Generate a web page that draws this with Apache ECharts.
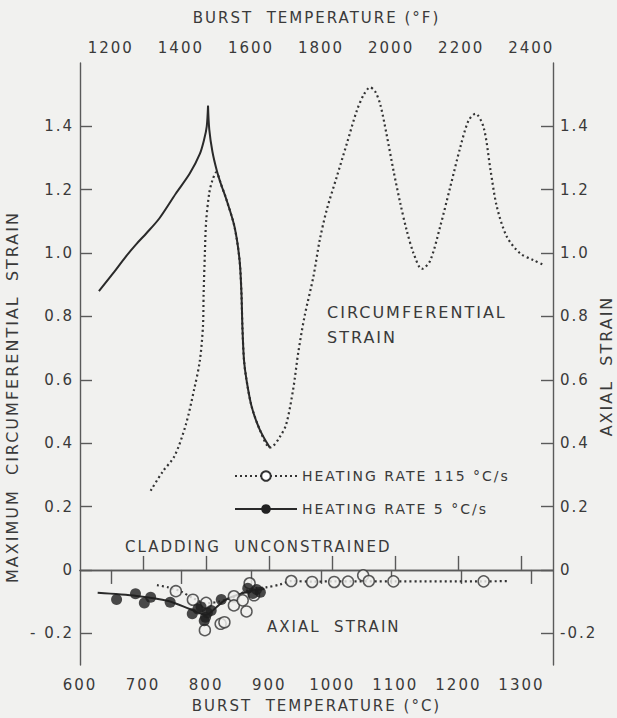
<!DOCTYPE html>
<html>
<head>
<meta charset="utf-8">
<script src="https://cdn.jsdelivr.net/npm/echarts@6/dist/echarts.min.js"></script>
<style>
  html, body { margin: 0; padding: 0; background: #f1f1ef; }
  #chart { width: 617px; height: 718px; }
  #chart text { letter-spacing: 2px; }
</style>
</head>
<body>
<div id="chart"></div>
<script>
// Burst temperature (deg C) vs. maximum circumferential strain, two heating rates
const circ115 = [
  [712, 0.25], [731, 0.31], [750, 0.36], [768, 0.46], [781, 0.57], [790, 0.66],
  [795, 0.77], [796, 0.87], [798, 1.00], [800, 1.10], [805, 1.19], [810, 1.23],
  [816, 1.255], [824, 1.215], [832, 1.17], [845, 1.083], [853, 0.978], [856, 0.873],
  [857.5, 0.768], [860, 0.663], [864, 0.60], [872, 0.517], [885, 0.443], [901, 0.386],
  [906, 0.39], [917, 0.42], [927, 0.46], [938, 0.57], [946, 0.685], [956, 0.80],
  [970, 0.925], [980, 1.04], [991, 1.135], [1007, 1.24], [1023, 1.345], [1039, 1.45],
  [1050, 1.50], [1060, 1.523], [1068, 1.51], [1076, 1.47], [1086, 1.376], [1097, 1.261],
  [1108, 1.156], [1118, 1.072], [1129, 0.999], [1142, 0.95], [1155, 0.975], [1171, 1.083],
  [1187, 1.208], [1203, 1.334], [1216, 1.418], [1227, 1.44], [1240, 1.397], [1251, 1.261],
  [1261, 1.146], [1277, 1.051], [1298, 0.999], [1319, 0.978], [1333, 0.965]
];
const circ5 = [
  [630, 0.88], [652, 0.935], [673, 0.99], [690, 1.03], [705, 1.062], [726, 1.11],
  [752, 1.188], [774, 1.251], [790, 1.313], [797, 1.36], [801, 1.40], [803, 1.465],
  [805, 1.39], [810, 1.32], [817, 1.26], [824, 1.215], [832, 1.17], [845, 1.083],
  [853, 0.978], [856, 0.873], [857.5, 0.768], [860, 0.663], [864, 0.60], [872, 0.517],
  [885, 0.443], [901, 0.386]
];

// Axial strain measurements and their trend lines
const axial115 = [
  [752, -0.067], [779, -0.094], [800, -0.104], [798, -0.19], [823, -0.17], [829, -0.165],
  [844, -0.083], [844, -0.112], [858, -0.096], [864, -0.131], [869, -0.042], [876, -0.08],
  [935, -0.035], [968, -0.038], [1003, -0.038], [1025, -0.037], [1049, -0.017],
  [1058, -0.035], [1097, -0.036], [1240, -0.036]
];
const axial5 = [
  [658, -0.093], [688, -0.075], [702, -0.104], [712, -0.086], [743, -0.102], [778, -0.138],
  [787, -0.123], [792, -0.117], [797, -0.16], [799, -0.149], [802, -0.135], [808, -0.128],
  [824, -0.093], [866, -0.058], [874, -0.074], [880, -0.062], [886, -0.07]
];
const axialTrend115 = [
  [722, -0.048], [740, -0.055], [760, -0.068], [780, -0.09], [800, -0.105], [820, -0.10],
  [845, -0.085], [870, -0.06], [895, -0.055], [917, -0.046], [935, -0.035], [970, -0.037],
  [1000, -0.036], [1100, -0.036], [1240, -0.036], [1280, -0.035]
];
const axialTrend5 = [
  [628, -0.072], [690, -0.082], [740, -0.098], [775, -0.124], [800, -0.142], [815, -0.12],
  [830, -0.095], [860, -0.072], [892, -0.06]
];

// Tick labels
const ticksC = [600, 700, 800, 900, 1000, 1100, 1200, 1300];
const ticksF = [1200, 1400, 1600, 1800, 2000, 2200, 2400];
const ticksStrain = [-0.2, 0, 0.2, 0.4, 0.6, 0.8, 1.0, 1.2, 1.4];

const nameRate115 = 'HEATING RATE 115 °C/s';
const nameRate5 = 'HEATING RATE 5 °C/s';

const bg = '#f1f1ef';
const ink = '#3a3a3a';
const frame = '#5a5a5a';
const font = 'DejaVu Sans';
const cMin = 600, cMax = 1350;
const toF = c => c * 9 / 5 + 32;

// the 5 C/s curve has a sharp cusp at its peak: smooth each branch separately
const peak5 = circ5.reduce((best, p, i) => (p[1] > circ5[best][1] ? i : best), 0);
const circ5Rise = circ5.slice(0, peak5 + 1);
const circ5Fall = circ5.slice(peak5);

const axisLine = { show: true, lineStyle: { color: frame, width: 1.4 } };
const tickStyle = { lineStyle: { color: frame, width: 1.4 } };
const labelStyle = { color: ink, fontFamily: font, fontSize: 15 };

function strainLabel(v) {
  if (Math.abs(v) < 1e-9) return '0';
  return v < 0 ? '- ' + Math.abs(v).toFixed(1) : v.toFixed(1);
}
const plain = v => String(Math.round(v));

const openCircle = { color: bg, borderColor: '#333', borderWidth: 1.5 };
const dottedLine = { color: '#333', width: 2.2, type: [2, 3] };
const solidLine = { color: '#2a2a2a', width: 2 };

const chart = echarts.init(document.getElementById('chart'), null, { renderer: 'svg' });

chart.setOption({
  backgroundColor: bg,
  animation: false,
  textStyle: { fontFamily: font, color: ink },
  grid: { left: 80, right: 64, top: 63, bottom: 53 },
  xAxis: [
    {
      type: 'value', position: 'bottom', min: cMin, max: cMax,
      axisLine: axisLine,
      axisTick: { show: true, inside: true, length: 14, customValues: ticksC.slice(1), ...tickStyle },
      axisLabel: { ...labelStyle, margin: 12, customValues: ticksC, formatter: plain },
      splitLine: { show: false },
      name: 'BURST  TEMPERATURE (°C)', nameLocation: 'middle', nameGap: 33,
      nameTextStyle: { ...labelStyle, fontSize: 15 }
    },
    {
      type: 'value', position: 'top', min: toF(cMin), max: toF(cMax),
      axisLine: axisLine,
      axisTick: { show: true, inside: true, length: 14, customValues: ticksF, ...tickStyle },
      axisLabel: { ...labelStyle, margin: 8, customValues: ticksF, formatter: plain },
      splitLine: { show: false },
      name: 'BURST  TEMPERATURE (°F)', nameLocation: 'middle', nameGap: 38,
      nameTextStyle: { ...labelStyle, fontSize: 15 }
    }
  ],
  yAxis: [
    {
      type: 'value', position: 'left', min: -0.3, max: 1.6,
      axisLine: axisLine,
      axisTick: { show: true, inside: true, length: 12, customValues: ticksStrain, ...tickStyle },
      axisLabel: { ...labelStyle, margin: 6, customValues: ticksStrain, formatter: strainLabel },
      splitLine: { show: false }
    },
    {
      type: 'value', position: 'right', min: -0.3, max: 1.6,
      axisLine: axisLine,
      axisTick: { show: true, inside: true, length: 12, customValues: ticksStrain, ...tickStyle },
      axisLabel: { ...labelStyle, margin: 7, customValues: ticksStrain,
        formatter: v => Math.abs(v) < 1e-9 ? '0' : v.toFixed(1) },
      splitLine: { show: false }
    }
  ],
  legend: {
    orient: 'vertical', left: 229, top: 464,
    itemWidth: 62, itemHeight: 12, itemGap: 19,
    data: [nameRate115, nameRate5],
    textStyle: { ...labelStyle, fontSize: 14 },
    selectedMode: false
  },
  series: [
    {
      name: nameRate115, type: 'line', data: circ115, smooth: 0.3,
      symbol: 'emptyCircle', symbolSize: 10, showSymbol: false,
      lineStyle: dottedLine, itemStyle: { color: '#333', borderWidth: 1.5 }, z: 2
    },
    {
      name: nameRate5, type: 'line', data: circ5Rise, smooth: 0.3,
      symbol: 'circle', symbolSize: 10, showSymbol: false,
      lineStyle: solidLine, itemStyle: { color: '#222' }, z: 3
    },
    {
      name: nameRate5, type: 'line', data: circ5Fall, smooth: 0.3,
      symbol: 'circle', symbolSize: 10, showSymbol: false,
      lineStyle: solidLine, itemStyle: { color: '#222' }, z: 3
    },
    {
      name: 'axial trend 115', type: 'line', data: axialTrend115, smooth: 0.3,
      symbol: 'none', lineStyle: dottedLine, z: 2
    },
    {
      name: 'axial trend 5', type: 'line', data: axialTrend5, smooth: 0.3,
      symbol: 'none', lineStyle: solidLine, z: 3
    },
    {
      name: 'axial 115', type: 'scatter', data: axial115, symbol: 'circle', symbolSize: 11,
      itemStyle: openCircle, z: 4
    },
    {
      name: 'axial 5', type: 'scatter', data: axial5, symbol: 'circle', symbolSize: 11,
      itemStyle: { color: '#1e1e1e' }, z: 5
    }
  ],
  graphic: [
    { type: 'text', x: 12, y: 397, rotation: Math.PI / 2,
      style: { text: 'MAXIMUM  CIRCUMFERENTIAL  STRAIN', font: '16px "DejaVu Sans"', fill: ink, align: 'center', verticalAlign: 'middle' } },
    { type: 'text', x: 606, y: 366, rotation: Math.PI / 2,
      style: { text: 'AXIAL  STRAIN', font: '16px "DejaVu Sans"', fill: ink, align: 'center', verticalAlign: 'middle' } },
    { type: 'text', x: 327, y: 312,
      style: { text: 'CIRCUMFERENTIAL', font: '16px "DejaVu Sans"', fill: ink, align: 'left', verticalAlign: 'middle' } },
    { type: 'text', x: 327, y: 337,
      style: { text: 'STRAIN', font: '16px "DejaVu Sans"', fill: ink, align: 'left', verticalAlign: 'middle' } },
    { type: 'text', x: 125, y: 547,
      style: { text: 'CLADDING  UNCONSTRAINED', font: '15px "DejaVu Sans"', fill: ink, align: 'left', verticalAlign: 'middle' } },
    { type: 'text', x: 267, y: 627,
      style: { text: 'AXIAL  STRAIN', font: '15px "DejaVu Sans"', fill: ink, align: 'left', verticalAlign: 'middle' } }
  ]
});
</script>
</body>
</html>
